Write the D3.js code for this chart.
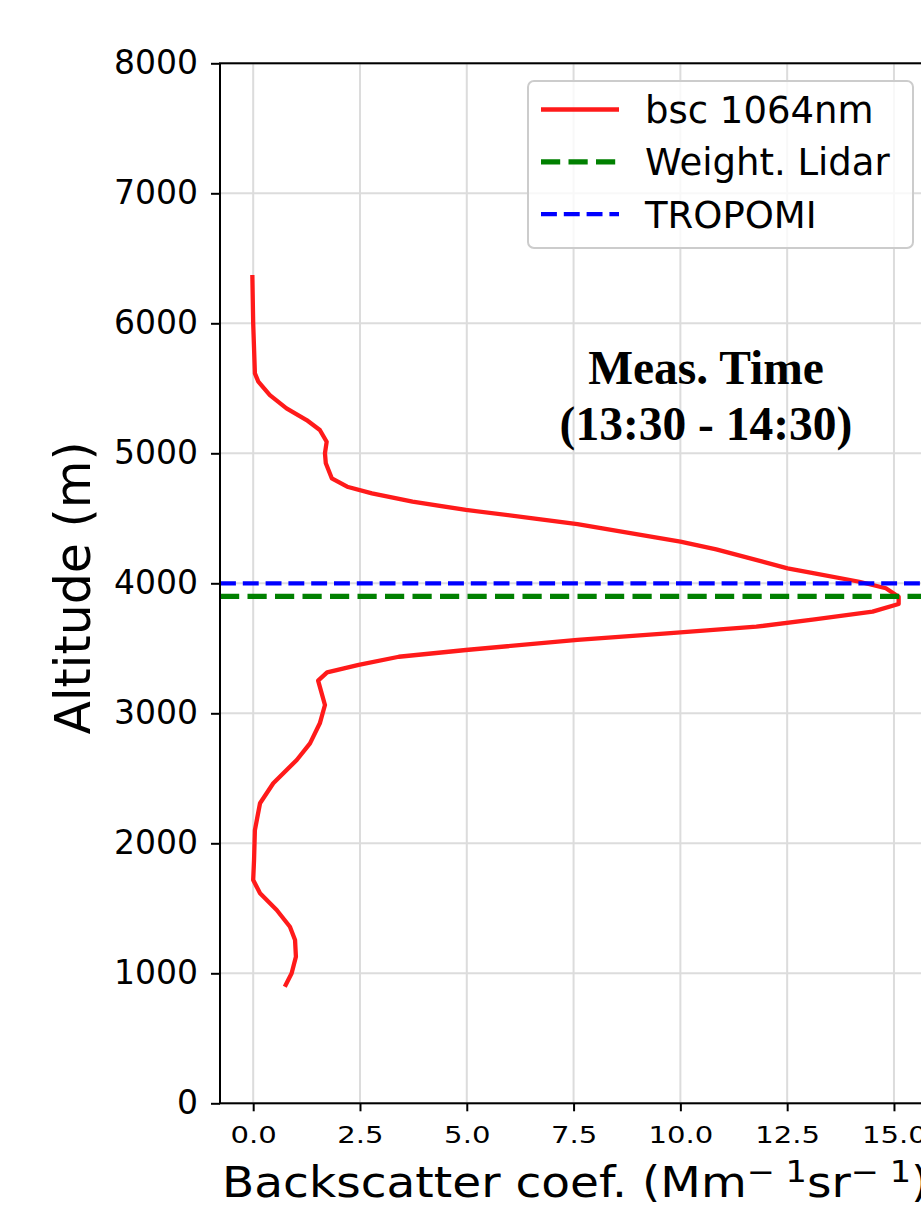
<!DOCTYPE html>
<meta charset="utf-8">
<style>
    body {
        margin: 0;
        background: #fff;
    }

    text {
        font-family: "DejaVu Sans", sans-serif;
        fill: #000;
    }

    .grid line {
        stroke: #dcdcdc;
        stroke-width: 2px;
    }
</style>
<script src="https://cdnjs.cloudflare.com/ajax/libs/d3/7.8.5/d3.min.js"></script>

<body>
    <div id="chart"></div>
    <script>
        // profile (altitude in m, backscatter in Mm-1 sr-1)
        var altitude = [897, 1000, 1128, 1256, 1358, 1487, 1615, 1718, 1871, 2102, 2308, 2462, 2641, 2769,
            2923, 3064, 3251, 3315, 3372, 3435, 3487, 3564, 3615, 3666, 3723, 3782, 3841, 3897, 3962, 4012,
            4077, 4115, 4261, 4320, 4456, 4500, 4564, 4628, 4692, 4743, 4808, 4923, 5000, 5089, 5179, 5256,
            5346, 5448, 5551, 5615, 6000, 6371];
        var bsc = [0.74, 0.90, 1.00, 0.98, 0.86, 0.55, 0.16, 0.00, 0.02, 0.04, 0.16, 0.47, 1.02, 1.33,
            1.56, 1.68, 1.52, 1.73, 2.47, 3.41, 4.98, 7.59, 9.69, 11.78, 13.14, 14.50, 15.11, 15.11, 14.81, 14.19,
            13.14, 12.51, 10.84, 10.00, 7.59, 6.55, 4.98, 3.73, 2.78, 2.20, 1.84, 1.70, 1.68, 1.72, 1.56, 1.25,
            0.78, 0.39, 0.12, 0.04, 0.00, -0.02];

        var lidarAlt = 3900;
        var tropomiAlt = 4000;

        var xTicks = [0, 2.5, 5, 7.5, 10, 12.5, 15];
        var yTicks = [0, 1000, 2000, 3000, 4000, 5000, 6000, 7000, 8000];
        var legendLabels = ["bsc 1064nm", "Weight. Lidar", "TROPOMI"];
        var titleLines = ["Meas. Time", "(13:30 - 14:30)"];

        var svg = d3.select("#chart")
            .append("svg")
            .attr("width", 921)
            .attr("height", 1206);

        var box = {
            left: 220,
            right: 930.7,
            top: 63.3,
            bottom: 1103.3
        };

        var x = d3.scaleLinear().domain([-0.777, 15.86]).range([box.left, box.right]),
            y = d3.scaleLinear().domain([0, 8000]).range([box.bottom, box.top]);

        // grid
        var grid = svg.append("g").attr("class", "grid");
        grid.selectAll(".gx").data(xTicks).enter().append("line")
            .attr("x1", d => x(d)).attr("x2", d => x(d))
            .attr("y1", box.top).attr("y2", box.bottom);
        grid.selectAll(".gy").data(yTicks).enter().append("line")
            .attr("x1", box.left).attr("x2", box.right)
            .attr("y1", d => y(d)).attr("y2", d => y(d));

        // axes
        var yAxis = d3.axisLeft(y).tickValues(yTicks).tickSize(9).tickSizeOuter(0)
            .tickPadding(13).tickFormat(d3.format("d"));
        var gy = svg.append("g")
            .attr("transform", "translate(" + box.left + ",0)")
            .call(yAxis);
        gy.select(".domain").remove();
        gy.selectAll("line").attr("stroke", "#000").attr("stroke-width", 2);
        gy.selectAll("text")
            .attr("font-size", 33)
            .attr("font-family", "DejaVu Sans")
            .attr("fill", "#000");

        var xAxis = d3.axisBottom(x).tickValues(xTicks).tickSize(8).tickSizeOuter(0)
            .tickFormat(d3.format(".1f"));
        var gx = svg.append("g")
            .attr("transform", "translate(0," + box.bottom + ")")
            .call(xAxis);
        gx.select(".domain").remove();
        gx.selectAll("line").attr("stroke", "#000").attr("stroke-width", 2);
        gx.selectAll("text")
            .attr("y", 0)
            .attr("dy", null)
            .attr("transform", "translate(0,39.5) scale(1.24,1)")
            .attr("font-size", 23.5)
            .attr("font-family", "DejaVu Sans")
            .attr("fill", "#000");

        // data
        var profile = altitude.map((a, i) => ({ alt: a, v: bsc[i] }));

        var line = d3.line()
            .x(d => x(d.v))
            .y(d => y(d.alt));

        svg.append("path")
            .datum(profile)
            .attr("d", line)
            .attr("fill", "none")
            .attr("stroke", "#ff1a1a")
            .attr("stroke-width", 4.3)
            .attr("stroke-linejoin", "round");

        svg.append("line")
            .attr("x1", box.left).attr("x2", box.right)
            .attr("y1", y(lidarAlt)).attr("y2", y(lidarAlt))
            .attr("stroke", "green")
            .attr("stroke-width", 5.2)
            .attr("stroke-dasharray", "19.2,8.3");

        svg.append("line")
            .attr("x1", box.left).attr("x2", box.right)
            .attr("y1", y(tropomiAlt)).attr("y2", y(tropomiAlt))
            .attr("stroke", "blue")
            .attr("stroke-width", 4.3)
            .attr("stroke-dasharray", "15.9,6.9");

        // spines
        svg.append("rect")
            .attr("x", box.left).attr("y", box.top)
            .attr("width", box.right - box.left)
            .attr("height", box.bottom - box.top)
            .attr("fill", "none")
            .attr("stroke", "#000")
            .attr("stroke-width", 2);

        // annotation
        svg.append("g").selectAll("text").data(titleLines).enter().append("text")
            .attr("x", 706)
            .attr("y", (d, i) => 384 + i * 55.5)
            .attr("text-anchor", "middle")
            .style("font-family", "'Liberation Serif', serif")
            .style("font-weight", "bold")
            .style("font-size", "47.5px")
            .text(d => d);

        // legend
        var legend = svg.append("g");
        legend.append("rect")
            .attr("x", 528).attr("y", 81)
            .attr("width", 385).attr("height", 167)
            .attr("rx", 6)
            .attr("fill", "#fff")
            .attr("fill-opacity", 0.8)
            .attr("stroke", "#cccccc")
            .attr("stroke-width", 2);

        var legendStyles = [
            { color: "#ff1a1a", width: 4.3, dash: null },
            { color: "green", width: 5.2, dash: "19.2,8.3" },
            { color: "blue", width: 4.3, dash: "15.9,6.9" }
        ];

        var rows = legend.selectAll(".row").data(legendLabels).enter().append("g")
            .attr("transform", (d, i) => "translate(0," + (109.5 + i * 52.3) + ")");
        rows.append("line")
            .attr("x1", 541).attr("x2", 619)
            .attr("stroke", (d, i) => legendStyles[i].color)
            .attr("stroke-width", (d, i) => legendStyles[i].width)
            .attr("stroke-dasharray", (d, i) => legendStyles[i].dash);
        rows.append("text")
            .attr("x", 645)
            .attr("y", 13.5)
            .attr("font-size", 37)
            .text(d => d);

        // axis labels
        svg.append("text")
            .attr("transform", "translate(90,588) rotate(-90)")
            .attr("text-anchor", "middle")
            .attr("font-size", 49)
            .text("Altitude (m)");

        var xl = svg.append("text")
            .attr("transform", "translate(222,1197) scale(1.12,1)")
            .attr("font-size", 42);
        xl.append("tspan").text("Backscatter coef. (Mm");
        xl.append("tspan").attr("dy", -15).attr("font-size", 30).text("\u2212 1");
        xl.append("tspan").attr("dy", 15).text("sr");
        xl.append("tspan").attr("dy", -15).attr("font-size", 30).text("\u2212 1");
        xl.append("tspan").attr("dy", 15).text(")");
    </script>
</body>
